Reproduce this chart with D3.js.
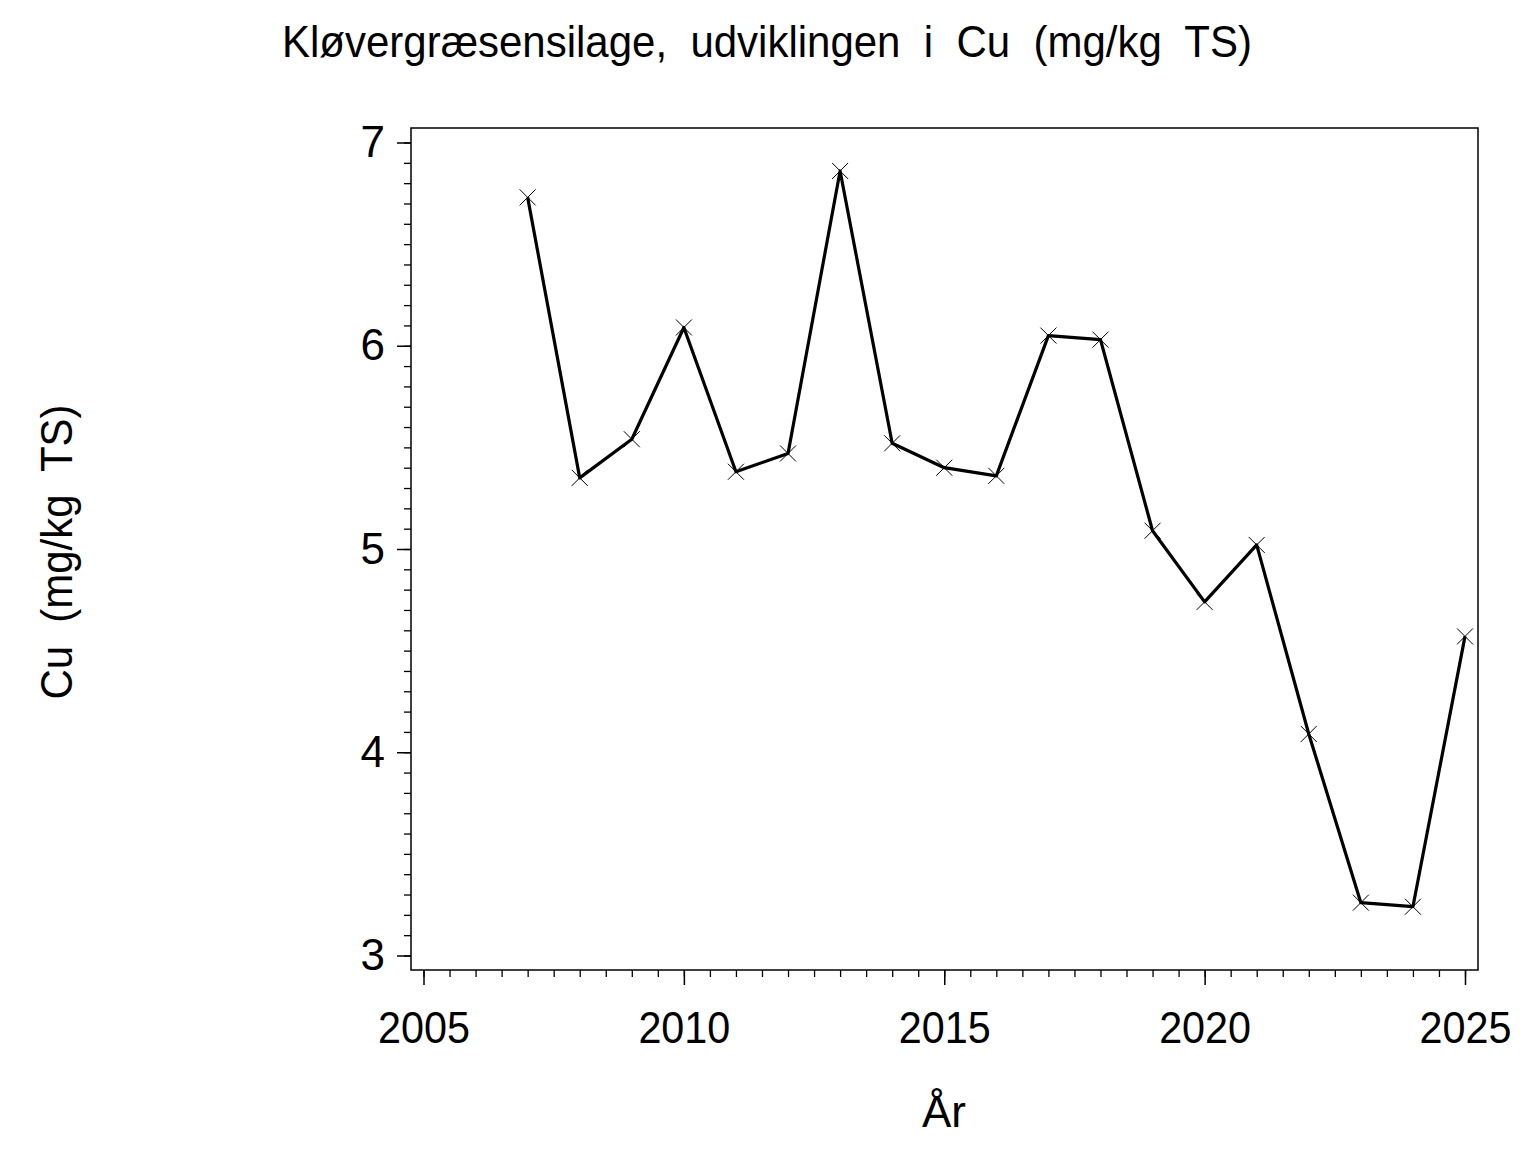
<!DOCTYPE html>
<html>
<head>
<meta charset="utf-8">
<script src="https://cdn.jsdelivr.net/npm/d3@7"></script>
<style>
  html, body { margin: 0; padding: 0; background: #fff; }
  svg { display: block; }
  text { font-family: "Liberation Sans", Arial, sans-serif; fill: #000; }
  .pre { white-space: pre; }
</style>
</head>
<body>
<svg id="chart" width="1536" height="1152"></svg>
<script>
const years = [2007, 2008, 2009, 2010, 2011, 2012, 2013, 2014, 2015, 2016, 2017, 2018, 2019, 2020, 2021, 2022, 2023, 2024, 2025];
const cuValues = [6.73, 5.35, 5.54, 6.09, 5.38, 5.47, 6.86, 5.52, 5.40, 5.36, 6.05, 6.03, 5.09, 4.74, 5.02, 4.09, 3.26, 3.24, 4.57];
const xTickLabels = [2005, 2010, 2015, 2020, 2025];
const yTickLabels = [3, 4, 5, 6, 7];
const titleText = "Kløvergræsensilage,  udviklingen  i  Cu  (mg/kg  TS)";
const xLabel = "År";
const yLabel = "Cu  (mg/kg  TS)";

const svg = d3.select("#chart");
const frame = { left: 411, right: 1478, top: 128, bottom: 970 };

const x = d3.scaleLinear().domain([2005, 2025]).range([423.5, 1465]);
const y = d3.scaleLinear().domain([3, 7]).range([955.5, 142.5]);

// Title
svg.append("text")
  .attr("class", "pre")
  .attr("x", 767).attr("y", 57)
  .attr("text-anchor", "middle")
  .attr("font-size", 44)
  .attr("textLength", 970)
  .attr("lengthAdjust", "spacingAndGlyphs")
  .text(titleText);

// Frame
svg.append("rect")
  .attr("x", frame.left).attr("y", frame.top)
  .attr("width", frame.right - frame.left)
  .attr("height", frame.bottom - frame.top)
  .attr("fill", "none").attr("stroke", "#000").attr("stroke-width", 1.5);

// Y axis minor
const yMinor = d3.range(30, 71).map(d => d / 10);
svg.append("g").attr("transform", `translate(${frame.left},0)`)
  .call(d3.axisLeft(y).tickValues(yMinor).tickSize(7).tickFormat(""))
  .call(g => g.select(".domain").remove())
  .call(g => g.selectAll("line").attr("stroke-width", 1.3));

// Y axis major
svg.append("g").attr("transform", `translate(${frame.left},0)`)
  .call(d3.axisLeft(y).tickValues(yTickLabels).tickSize(14).tickPadding(12).tickFormat(d3.format("d")))
  .call(g => g.select(".domain").remove())
  .call(g => g.selectAll("line").attr("stroke-width", 1.5))
  .call(g => g.selectAll("text").attr("font-size", 44).attr("font-family", "Liberation Sans, Arial, sans-serif").attr("fill", "#000"));

// X axis minor
const xMinor = d3.range(0, 41).map(i => 2005 + i * 0.5);
svg.append("g").attr("transform", `translate(0,${frame.bottom})`)
  .call(d3.axisBottom(x).tickValues(xMinor).tickSize(7).tickFormat(""))
  .call(g => g.select(".domain").remove())
  .call(g => g.selectAll("line").attr("stroke-width", 1.3));

// X axis major
svg.append("g").attr("transform", `translate(0,${frame.bottom})`)
  .call(d3.axisBottom(x).tickValues(xTickLabels).tickSize(15).tickPadding(27).tickFormat(d3.format("d")))
  .call(g => g.select(".domain").remove())
  .call(g => g.selectAll("line").attr("stroke-width", 1.5))
  .call(g => g.selectAll("text").attr("font-size", 44).attr("font-family", "Liberation Sans, Arial, sans-serif").attr("fill", "#000")
    .attr("textLength", 92).attr("lengthAdjust", "spacingAndGlyphs"));

// Axis labels
svg.append("text")
  .attr("x", 944).attr("y", 1127)
  .attr("text-anchor", "middle")
  .attr("font-size", 44)
  .text(xLabel);

svg.append("text")
  .attr("class", "pre")
  .attr("transform", "translate(72,552) rotate(-90)")
  .attr("text-anchor", "middle")
  .attr("font-size", 44)
  .attr("textLength", 295)
  .attr("lengthAdjust", "spacingAndGlyphs")
  .text(yLabel);

// Line
const data = years.map((yr, i) => ({ year: yr, value: cuValues[i] }));
const line = d3.line().x(d => x(d.year)).y(d => y(d.value));
svg.append("path")
  .datum(data)
  .attr("d", line)
  .attr("fill", "none")
  .attr("stroke", "#000")
  .attr("stroke-width", 3.2)
  .attr("stroke-linejoin", "round");

// Markers (X crosses)
const s = 8;
const markers = svg.append("g");
markers.selectAll("path.marker")
  .data(data)
  .join("path")
  .attr("class", "marker")
  .attr("d", d => {
    const cx = x(d.year), cy = y(d.value);
    return `M${cx - s},${cy - s}L${cx + s},${cy + s}M${cx - s},${cy + s}L${cx + s},${cy - s}`;
  })
  .attr("stroke", "#000")
  .attr("stroke-width", 1)
  .attr("fill", "none");
</script>
</body>
</html>
